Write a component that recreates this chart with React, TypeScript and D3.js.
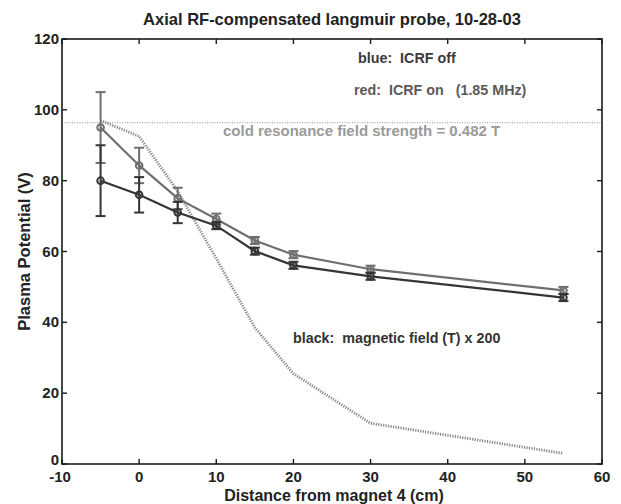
import React from 'react';
import * as d3 from 'd3';

// positions along the axis (cm)
const distances = [-5, 0, 5, 10, 15, 20, 30, 55];
// ICRF on (red, lighter in the grayscale picture)
const potentialOn = [95, 84.3, 75, 69.2, 63.1, 59.1, 55, 49];
const errorOn = [10, 5, 3, 1.5, 1, 1, 1, 1];
// ICRF off (blue, darker)
const potentialOff = [80, 76, 71, 67.3, 60.1, 56.1, 53, 47];
const errorOff = [10, 5, 3, 1, 1, 1, 1, 1];
// magnetic field (T) x 200
const fieldScaled = [97, 92.5, 77, 58, 38.5, 25.5, 11.5, 3];
const resonanceLevel = 96.4;

const xTicks = [-10, 0, 10, 20, 30, 40, 50, 60];
const yTicks = [0, 20, 40, 60, 80, 100, 120];

const W = 621;
const H = 504;
const margin = { top: 39, right: 19, bottom: 40, left: 62 };

const font = '"Liberation Sans", Arial, sans-serif';
const nb = '\u00a0';

export default function App() {
  const x = d3.scaleLinear().domain([-10, 60]).range([margin.left, W - margin.right]);
  const y = d3.scaleLinear().domain([0, 120]).range([H - margin.bottom, margin.top]);

  const line = d3.line<number>().x((_, i) => x(distances[i])).y(d => y(d));

  const series = [
    { vals: potentialOn, errs: errorOn, color: '#6f6f6f' },
    { vals: potentialOff, errs: errorOff, color: '#353535' },
  ];

  const x0 = x.range()[0], x1 = x.range()[1];
  const y0 = y.range()[0], y1 = y.range()[1];
  const tl = 5;

  return (
    <svg width={W} height={H} style={{ position: 'absolute', left: 0, top: 0, background: '#fff' }}>
      <rect width={W} height={H} fill="#fff" />

      {/* resonance level */}
      <line x1={x0} x2={x1} y1={y(resonanceLevel)} y2={y(resonanceLevel)}
        stroke="#a8a8a8" strokeWidth={1.2} strokeDasharray="1,1.5" />

      {/* magnetic field */}
      <path d={line(fieldScaled) || ''} fill="none" stroke="#858585" strokeWidth={2.8} strokeDasharray="1.2,1.3" />

      {series.map((s, k) => (
        <g key={k}>
          <path d={line(s.vals) || ''} fill="none" stroke={s.color} strokeWidth={2.2} />
          {s.vals.map((v, i) => {
            const cx = x(distances[i]);
            const hi = y(v + s.errs[i]);
            const lo = y(v - s.errs[i]);
            return (
              <g key={i} stroke={s.color} strokeWidth={2}>
                <line x1={cx} x2={cx} y1={hi} y2={lo} />
                <line x1={cx - 5} x2={cx + 5} y1={hi} y2={hi} />
                <line x1={cx - 5} x2={cx + 5} y1={lo} y2={lo} />
                <circle cx={cx} cy={y(v)} r={3.3} fill="none" />
              </g>
            );
          })}
        </g>
      ))}

      {/* axes box */}
      <rect x={x0} y={y1} width={x1 - x0} height={y0 - y1} fill="none" stroke="#1a1a1a" strokeWidth={1.6} />
      {xTicks.map(t => (
        <g key={'x' + t}>
          <line x1={x(t)} x2={x(t)} y1={y0} y2={y0 - tl} stroke="#1a1a1a" strokeWidth={1.4} />
          <line x1={x(t)} x2={x(t)} y1={y1} y2={y1 + tl} stroke="#1a1a1a" strokeWidth={1.4} />
          <text x={x(t) - (t < 0 ? 2 : 0)} y={y0 + 18} textAnchor="middle" fontFamily={font} fontWeight="bold" fontSize={15} fill="#222">{t}</text>
        </g>
      ))}
      {yTicks.map(t => (
        <g key={'y' + t}>
          <line x1={x0} x2={x0 + tl} y1={y(t)} y2={y(t)} stroke="#1a1a1a" strokeWidth={1.4} />
          <line x1={x1} x2={x1 - tl} y1={y(t)} y2={y(t)} stroke="#1a1a1a" strokeWidth={1.4} />
          <text x={x0 - 3} y={y(t) + (t === 0 ? 1 : 5)} textAnchor="end" fontFamily={font} fontWeight="bold" fontSize={15} fill="#222">{t}</text>
        </g>
      ))}

      {/* annotations */}
      <g fontFamily={font} fontWeight="bold" fontSize={14.3}>
        <text x={358} y={63} fill="#3a3a3a">{`blue:${nb}${nb}ICRF off`}</text>
        <text x={354} y={95} fill="#5a5a5a">{`red:${nb}${nb}ICRF on${nb}${nb}${nb}(1.85 MHz)`}</text>
        <text x={223} y={136} fill="#9a9a9a" fontSize={15}>cold resonance field strength = 0.482 T</text>
        <text x={293} y={343} fill="#333">{`black:${nb}${nb}magnetic field (T) x 200`}</text>
      </g>

      <text x={332} y={25} textAnchor="middle" fontFamily={font} fontWeight="bold" fontSize={16.5} fill="#222">
        Axial RF-compensated langmuir probe, 10-28-03
      </text>
      <text x={334} y={501} textAnchor="middle" fontFamily={font} fontWeight="bold" fontSize={16} fill="#222">
        Distance from magnet 4 (cm)
      </text>
      <text transform={`translate(30,${(y0 + y1) / 2}) rotate(-90)`} textAnchor="middle" fontFamily={font} fontWeight="bold" fontSize={16.5} fill="#222">
        Plasma Potential (V)
      </text>
    </svg>
  );
}
